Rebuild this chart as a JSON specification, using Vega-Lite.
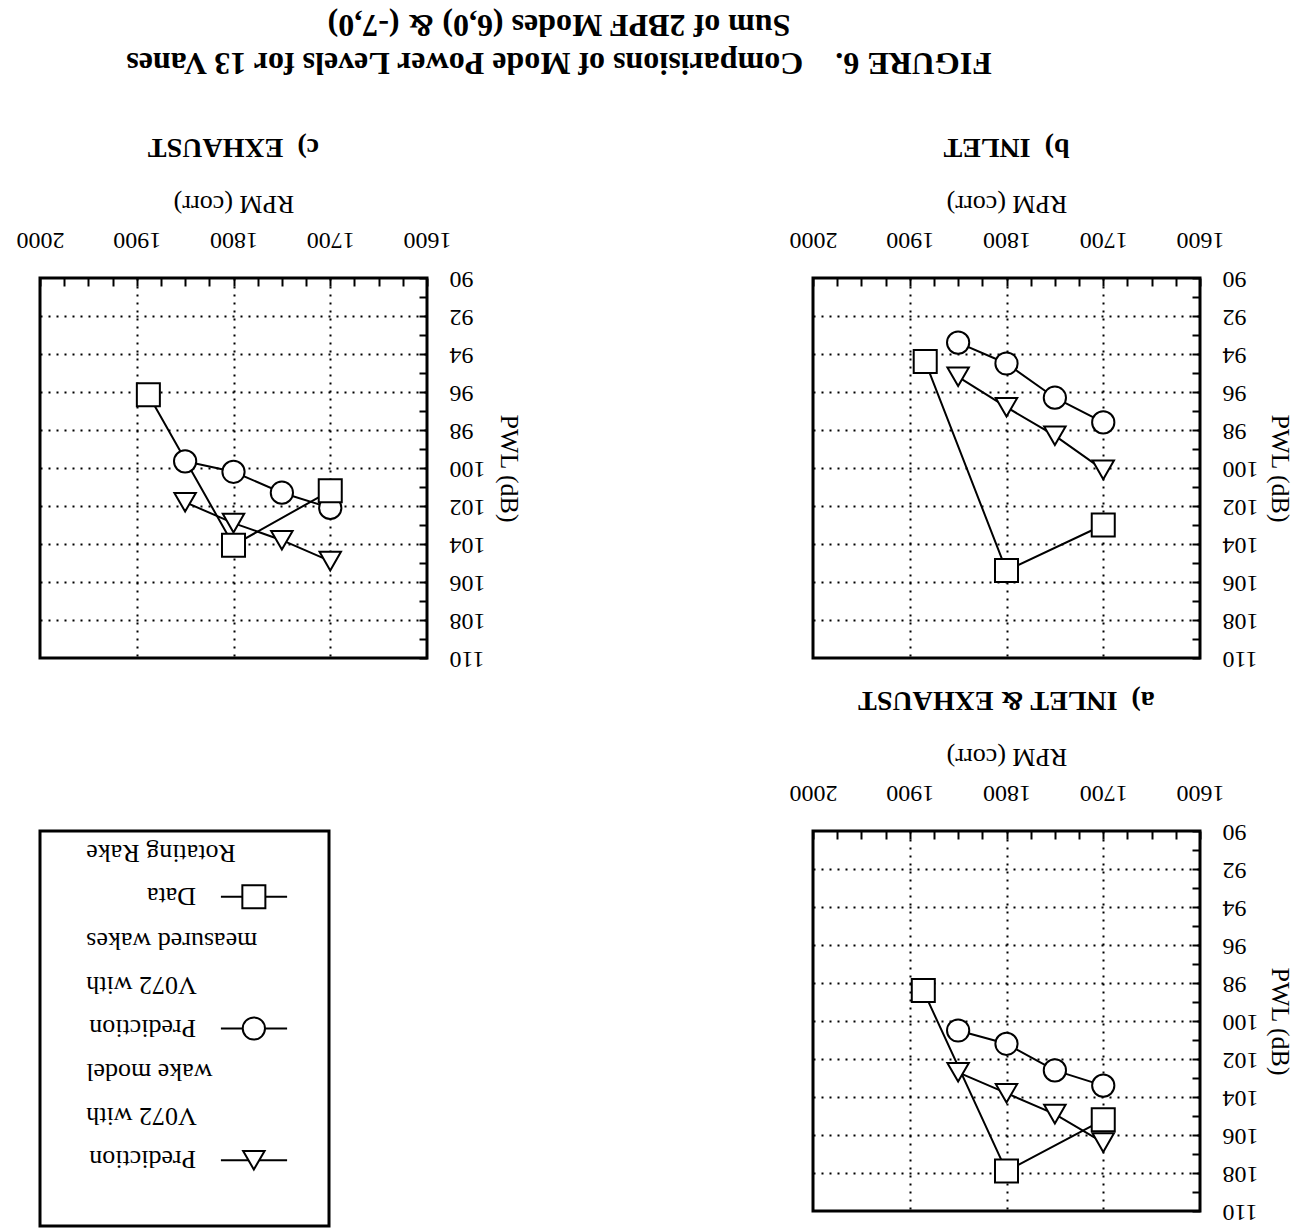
{
  "$schema": "https://vega.github.io/schema/vega-lite/v6.json",
  "background": "white",
  "padding": {"left": 14, "top": 8, "right": 0, "bottom": 0},
  "config": {
    "font": "Liberation Serif",
    "view": {"stroke": "black", "strokeWidth": 3},
    "axis": {
      "domain": false, "grid": true, "gridColor": "black", "gridWidth": 2, "gridDash": [2, 6],
      "tickColor": "black", "tickWidth": 2,
      "labelFont": "Liberation Serif", "labelFontSize": 24, "labelColor": "black",
      "titleFont": "Liberation Serif", "titleFontSize": 26, "titleFontWeight": "normal", "titleColor": "black"
    }
  },
  "title": {
    "text": ["FIGURE 6.\u00a0\u00a0\u00a0\u00a0Comparisions of Mode Power Levels for 13 Vanes", "Sum of 2BPF Modes (6,0) & (-7,0)"],
    "angle": 180, "font": "Liberation Serif", "fontSize": 32, "fontWeight": "bold", "lineHeight": 38,
    "anchor": "middle", "frame": "bounds", "offset": -16, "dx": 95, "color": "black"
  },
  "datasets": {
    "pts": [
      {"panel": "a", "series": "model", "rpm": 1850, "pwl": 102.7},
      {"panel": "a", "series": "model", "rpm": 1800, "pwl": 103.8},
      {"panel": "a", "series": "model", "rpm": 1750, "pwl": 104.9},
      {"panel": "a", "series": "model", "rpm": 1700, "pwl": 106.4},
      {"panel": "a", "series": "measured", "rpm": 1850, "pwl": 100.5},
      {"panel": "a", "series": "measured", "rpm": 1800, "pwl": 101.2},
      {"panel": "a", "series": "measured", "rpm": 1750, "pwl": 102.6},
      {"panel": "a", "series": "measured", "rpm": 1700, "pwl": 103.4},
      {"panel": "a", "series": "data", "rpm": 1886, "pwl": 98.4},
      {"panel": "a", "series": "data", "rpm": 1800, "pwl": 107.9},
      {"panel": "a", "series": "data", "rpm": 1700, "pwl": 105.2},
      {"panel": "b", "series": "model", "rpm": 1850, "pwl": 95.2},
      {"panel": "b", "series": "model", "rpm": 1800, "pwl": 96.8},
      {"panel": "b", "series": "model", "rpm": 1750, "pwl": 98.3},
      {"panel": "b", "series": "model", "rpm": 1700, "pwl": 100.1},
      {"panel": "b", "series": "measured", "rpm": 1850, "pwl": 93.4},
      {"panel": "b", "series": "measured", "rpm": 1800, "pwl": 94.5},
      {"panel": "b", "series": "measured", "rpm": 1750, "pwl": 96.3},
      {"panel": "b", "series": "measured", "rpm": 1700, "pwl": 97.6},
      {"panel": "b", "series": "data", "rpm": 1884, "pwl": 94.4},
      {"panel": "b", "series": "data", "rpm": 1800, "pwl": 105.4},
      {"panel": "b", "series": "data", "rpm": 1700, "pwl": 103.0},
      {"panel": "c", "series": "model", "rpm": 1850, "pwl": 101.8},
      {"panel": "c", "series": "model", "rpm": 1800, "pwl": 102.9},
      {"panel": "c", "series": "model", "rpm": 1750, "pwl": 103.8},
      {"panel": "c", "series": "model", "rpm": 1700, "pwl": 104.9},
      {"panel": "c", "series": "measured", "rpm": 1850, "pwl": 99.65},
      {"panel": "c", "series": "measured", "rpm": 1800, "pwl": 100.2},
      {"panel": "c", "series": "measured", "rpm": 1750, "pwl": 101.3},
      {"panel": "c", "series": "measured", "rpm": 1700, "pwl": 102.1},
      {"panel": "c", "series": "data", "rpm": 1888, "pwl": 96.15},
      {"panel": "c", "series": "data", "rpm": 1800, "pwl": 104.06},
      {"panel": "c", "series": "data", "rpm": 1700, "pwl": 101.2}
    ],
    "legend": [
      {"series": "data", "head": "Data", "rest": ["Rotating Rake"]},
      {"series": "measured", "head": "Prediction", "rest": ["V072 with", "measured wakes"]},
      {"series": "model", "head": "Prediction", "rest": ["V072 with", "wake model"]}
    ]
  },
  "columns": 2,
  "spacing": {"row": 12, "column": 264},
  "concat": [
    {
      "width": 387, "height": 380,
      "title": {"text": "c)\u00a0 EXHAUST", "angle": 180, "fontSize": 28, "fontWeight": "bold", "font": "Liberation Serif", "frame": "group", "anchor": "middle", "offset": 1, "color": "black"},
      "data": {"name": "pts"},
      "transform": [{"filter": "datum.panel === 'c'"}],
      "encoding": {
        "x": {"field": "rpm", "type": "quantitative", "title": "RPM (corr)",
          "scale": {"domain": [1600, 2000], "reverse": true, "nice": false, "zero": false},
          "axis": {"orient": "top", "format": "d", "values": [1600,1625,1650,1675,1700,1725,1750,1775,1800,1825,1850,1875,1900,1925,1950,1975,2000],
            "labelExpr": "datum.value % 100 === 0 ? datum.label : ''", "labelOverlap": false, "labelFlush": false,
            "labelAngle": 180, "labelAlign": "center", "labelBaseline": "top", "labelPadding": 35, "tickSize": -8,
            "gridOpacity": {"condition": {"test": "datum.value % 100 === 0 && datum.value > 1600 && datum.value < 2000", "value": 1}, "value": 0},
            "titleAngle": 180, "titleBaseline": "top", "titlePadding": 11}},
        "y": {"field": "pwl", "type": "quantitative", "title": "PWL (dB)",
          "scale": {"domain": [90, 110], "reverse": true, "nice": false, "zero": false},
          "axis": {"orient": "right", "format": "d", "values": [90,91,92,93,94,95,96,97,98,99,100,101,102,103,104,105,106,107,108,109,110],
            "labelExpr": "datum.value % 2 === 0 ? datum.label : ''", "labelOverlap": false, "labelFlush": false,
            "labelAngle": 180, "labelAlign": "right", "labelBaseline": "middle", "labelPadding": 30, "tickSize": -8,
            "gridOpacity": {"condition": {"test": "datum.value % 2 === 0 && datum.value > 90 && datum.value < 110", "value": 1}, "value": 0},
            "titleAngle": 90, "titlePadding": 10}}
      },
      "layer": [
        {"mark": {"type": "line", "color": "black", "strokeWidth": 2}, "encoding": {"detail": {"field": "series"}}},
        {"mark": {"type": "point", "filled": true, "fill": "white", "stroke": "black", "strokeWidth": 2, "opacity": 1},
          "encoding": {
            "shape": {"field": "series", "scale": {"domain": ["model", "measured", "data"], "range": ["triangle-down", "circle", "square"]}, "legend": null},
            "size": {"field": "series", "scale": {"domain": ["model", "measured", "data"], "range": [460, 530, 420]}, "legend": null}
          }}
      ]
    },
    {
      "width": 387, "height": 380,
      "title": {"text": "b)\u00a0 INLET", "angle": 180, "fontSize": 28, "fontWeight": "bold", "font": "Liberation Serif", "frame": "group", "anchor": "middle", "offset": 1, "color": "black"},
      "data": {"name": "pts"},
      "transform": [{"filter": "datum.panel === 'b'"}],
      "encoding": {
        "x": {"field": "rpm", "type": "quantitative", "title": "RPM (corr)",
          "scale": {"domain": [1600, 2000], "reverse": true, "nice": false, "zero": false},
          "axis": {"orient": "top", "format": "d", "values": [1600,1625,1650,1675,1700,1725,1750,1775,1800,1825,1850,1875,1900,1925,1950,1975,2000],
            "labelExpr": "datum.value % 100 === 0 ? datum.label : ''", "labelOverlap": false, "labelFlush": false,
            "labelAngle": 180, "labelAlign": "center", "labelBaseline": "top", "labelPadding": 35, "tickSize": -8,
            "gridOpacity": {"condition": {"test": "datum.value % 100 === 0 && datum.value > 1600 && datum.value < 2000", "value": 1}, "value": 0},
            "titleAngle": 180, "titleBaseline": "top", "titlePadding": 11}},
        "y": {"field": "pwl", "type": "quantitative", "title": "PWL (dB)",
          "scale": {"domain": [90, 110], "reverse": true, "nice": false, "zero": false},
          "axis": {"orient": "right", "format": "d", "values": [90,91,92,93,94,95,96,97,98,99,100,101,102,103,104,105,106,107,108,109,110],
            "labelExpr": "datum.value % 2 === 0 ? datum.label : ''", "labelOverlap": false, "labelFlush": false,
            "labelAngle": 180, "labelAlign": "right", "labelBaseline": "middle", "labelPadding": 30, "tickSize": -8,
            "gridOpacity": {"condition": {"test": "datum.value % 2 === 0 && datum.value > 90 && datum.value < 110", "value": 1}, "value": 0},
            "titleAngle": 90, "titlePadding": 8}}
      },
      "layer": [
        {"mark": {"type": "line", "color": "black", "strokeWidth": 2}, "encoding": {"detail": {"field": "series"}}},
        {"mark": {"type": "point", "filled": true, "fill": "white", "stroke": "black", "strokeWidth": 2, "opacity": 1},
          "encoding": {
            "shape": {"field": "series", "scale": {"domain": ["model", "measured", "data"], "range": ["triangle-down", "circle", "square"]}, "legend": null},
            "size": {"field": "series", "scale": {"domain": ["model", "measured", "data"], "range": [460, 530, 420]}, "legend": null}
          }}
      ]
    },
    {
      "width": 289, "height": 395,
      "data": {"name": "legend"},
      "encoding": {
        "y": {"field": "series", "type": "nominal", "scale": {"type": "point", "domain": ["data", "measured", "model"], "padding": 0.5}, "axis": null}
      },
      "layer": [
        {"mark": {"type": "rule", "color": "black", "strokeWidth": 2},
          "encoding": {"x": {"datum": 62.6, "type": "quantitative", "scale": {"domain": [0, 100], "nice": false, "zero": false}, "axis": null}, "x2": {"datum": 85.5}}},
        {"mark": {"type": "point", "filled": true, "fill": "white", "stroke": "black", "strokeWidth": 2, "opacity": 1},
          "encoding": {
            "x": {"datum": 74, "type": "quantitative"},
            "shape": {"field": "series", "scale": {"domain": ["model", "measured", "data"], "range": ["triangle-down", "circle", "square"]}, "legend": null},
            "size": {"field": "series", "scale": {"domain": ["model", "measured", "data"], "range": [460, 530, 420]}, "legend": null}
          }},
        {"mark": {"type": "text", "angle": 180, "align": "left", "baseline": "alphabetic", "dy": 9, "fontSize": 26, "font": "Liberation Serif", "color": "black"},
          "encoding": {"x": {"datum": 54, "type": "quantitative"}, "text": {"field": "head"}}},
        {"mark": {"type": "text", "angle": 180, "align": "right", "baseline": "alphabetic", "dy": 52, "lineHeight": 44, "fontSize": 26, "font": "Liberation Serif", "color": "black"},
          "encoding": {"x": {"datum": 16, "type": "quantitative"}, "text": {"field": "rest"}}}
      ]
    },
    {
      "width": 387, "height": 380,
      "title": {"text": "a)\u00a0 INLET & EXHAUST", "angle": 180, "fontSize": 28, "fontWeight": "bold", "font": "Liberation Serif", "frame": "group", "anchor": "middle", "offset": 1, "color": "black"},
      "data": {"name": "pts"},
      "transform": [{"filter": "datum.panel === 'a'"}],
      "encoding": {
        "x": {"field": "rpm", "type": "quantitative", "title": "RPM (corr)",
          "scale": {"domain": [1600, 2000], "reverse": true, "nice": false, "zero": false},
          "axis": {"orient": "top", "format": "d", "values": [1600,1625,1650,1675,1700,1725,1750,1775,1800,1825,1850,1875,1900,1925,1950,1975,2000],
            "labelExpr": "datum.value % 100 === 0 ? datum.label : ''", "labelOverlap": false, "labelFlush": false,
            "labelAngle": 180, "labelAlign": "center", "labelBaseline": "top", "labelPadding": 35, "tickSize": -8,
            "gridOpacity": {"condition": {"test": "datum.value % 100 === 0 && datum.value > 1600 && datum.value < 2000", "value": 1}, "value": 0},
            "titleAngle": 180, "titleBaseline": "top", "titlePadding": 11}},
        "y": {"field": "pwl", "type": "quantitative", "title": "PWL (dB)",
          "scale": {"domain": [90, 110], "reverse": true, "nice": false, "zero": false},
          "axis": {"orient": "right", "format": "d", "values": [90,91,92,93,94,95,96,97,98,99,100,101,102,103,104,105,106,107,108,109,110],
            "labelExpr": "datum.value % 2 === 0 ? datum.label : ''", "labelOverlap": false, "labelFlush": false,
            "labelAngle": 180, "labelAlign": "right", "labelBaseline": "middle", "labelPadding": 30, "tickSize": -8,
            "gridOpacity": {"condition": {"test": "datum.value % 2 === 0 && datum.value > 90 && datum.value < 110", "value": 1}, "value": 0},
            "titleAngle": 90, "titlePadding": 8}}
      },
      "layer": [
        {"mark": {"type": "line", "color": "black", "strokeWidth": 2}, "encoding": {"detail": {"field": "series"}}},
        {"mark": {"type": "point", "filled": true, "fill": "white", "stroke": "black", "strokeWidth": 2, "opacity": 1},
          "encoding": {
            "shape": {"field": "series", "scale": {"domain": ["model", "measured", "data"], "range": ["triangle-down", "circle", "square"]}, "legend": null},
            "size": {"field": "series", "scale": {"domain": ["model", "measured", "data"], "range": [460, 530, 420]}, "legend": null}
          }}
      ]
    }
  ]
}
